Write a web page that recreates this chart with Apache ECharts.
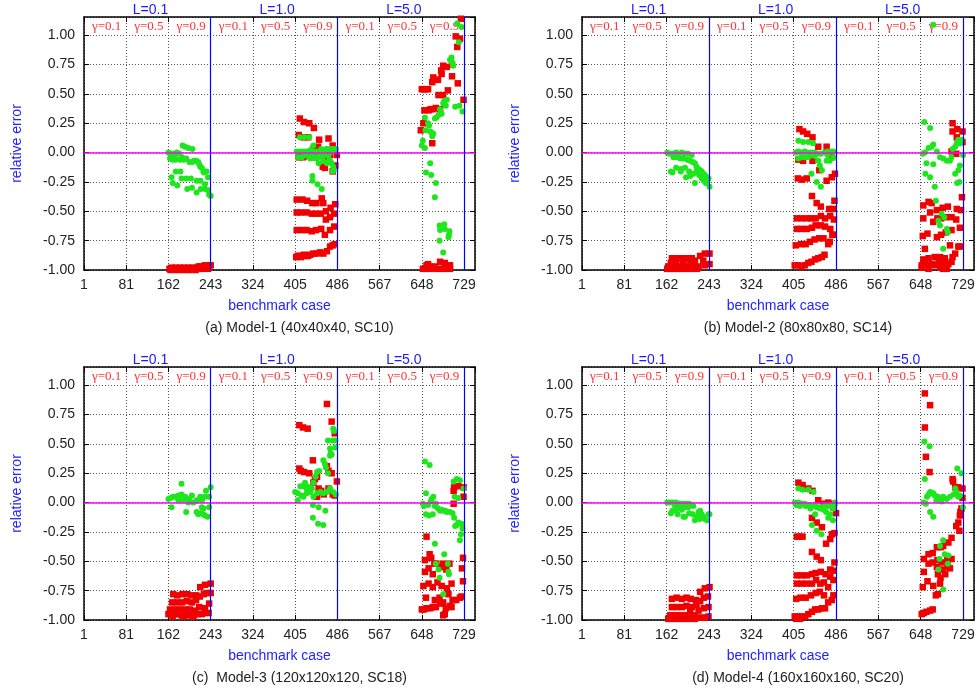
<!DOCTYPE html>
<html><head><meta charset="utf-8">
<script src="https://cdn.jsdelivr.net/npm/echarts/dist/echarts.min.js"></script>
<style>html,body{margin:0;padding:0;background:#fff}#c{width:980px;height:689px}</style>
</head><body><div id="c"></div>
<script>
const xTicks = [1,81,162,243,324,405,486,567,648,729];
const blockLabels = ['L=0.1','L=1.0','L=5.0'];
const gammaLabels = ['γ=0.1','γ=0.5','γ=0.9'];
const panelTitles = ['(a) Model-1 (40x40x40, SC10)','(b) Model-2 (80x80x80, SC14)','(c)  Model-3 (120x120x120, SC18)','(d) Model-4 (160x160x160, SC20)'];
const separators = [243,486,729];

const a_red = [
[164,-0.99],[168,-0.98],[172,-0.99],[176,-0.98],[180,-0.99],[184,-0.98],[188,-0.99],[192,-0.98],[196,-0.99],[200,-0.98],[204,-0.99],[208,-0.98],[212,-0.99],[216,-0.98],[220,-0.97],[224,-0.97],[228,-0.98],[232,-0.96],[236,-0.97],[240,-0.96],[243,-0.96],[166,-1.0],[178,-1.0],[190,-1.0],[202,-1.0],[214,-1.0],[226,-0.99],[238,-0.99],
[414,0.29],[422,0.26],[432,0.25],[441,0.21],[412,0.15],[421,0.13],[430,0.13],[451,0.11],[469,0.12],[477,0.06],[440,0.03],[449,0.05],
[412,-0.04],[420,-0.04],[432,-0.03],[443,-0.04],[460,-0.04],[472,-0.02],[485,-0.02],[458,-0.12],[462,-0.13],[477,-0.16],[482,-0.11],
[408,-0.40],[419,-0.40],[428,-0.41],[438,-0.43],[446,-0.43],[456,-0.39],[459,-0.43],
[408,-0.51],[416,-0.51],[427,-0.51],[437,-0.52],[445,-0.52],[454,-0.52],[464,-0.50],[473,-0.47],[482,-0.44],[464,-0.57],[472,-0.55],[480,-0.52],
[408,-0.66],[418,-0.66],[427,-0.66],[437,-0.67],[445,-0.66],[455,-0.65],[462,-0.70],[472,-0.66],[480,-0.63],
[407,-0.89],[410,-0.88],[413,-0.88],[416,-0.89],[419,-0.88],[422,-0.87],[426,-0.88],[430,-0.88],[434,-0.87],[440,-0.86],[446,-0.86],[453,-0.85],[459,-0.86],[466,-0.84],[472,-0.80],[477,-0.79],[481,-0.78],
[648,0.54],[652,0.54],[656,0.54],[660,0.54],[653,0.36],[661,0.36],[665,0.37],[670,0.37],[668,0.60],[670,0.64],[675,0.62],[679,0.62],[685,0.70],[689,0.74],[696,0.73],[686,0.67],[675,0.38],[683,0.37],[680,0.49],[689,0.49],[698,0.53],[706,0.75],[706,0.65],[713,0.99],[716,0.90],[717,0.59],[723,1.14],[728,0.45],[721,0.97],[646,0.19],[651,0.25],[668,0.08],
[657,-0.96],[664,-0.97],[656,-0.99],[673,-0.97],[683,-0.93],[692,-0.94],[686,-0.99],[692,-0.99],[702,-0.96],[702,-0.99],[664,-0.99],[676,-0.99],[650,-0.99],[660,-0.95],[668,-0.98],[697,-0.97]
];
const a_green = [
[162,0.00],[166,-0.01],[171,-0.01],[178,0.00],[183,-0.01],[165,-0.05],[170,-0.06],[176,-0.06],[184,-0.06],[191,-0.06],[196,-0.05],[202,-0.08],[208,-0.08],[215,-0.07],[219,-0.08],[223,-0.12],[226,-0.13],[229,-0.16],[232,-0.16],[235,-0.16],[238,-0.21],[230,-0.17],[174,-0.03],[188,-0.04],[211,-0.07],[221,-0.10],
[189,0.06],[194,0.05],[200,0.04],[208,0.03],
[168,-0.21],[176,-0.16],[185,-0.16],[170,-0.26],[179,-0.28],[187,-0.22],[196,-0.22],[205,-0.22],[198,-0.31],[207,-0.30],[216,-0.34],[216,-0.24],[223,-0.24],[224,-0.31],[232,-0.27],[232,-0.31],[238,-0.32],[240,-0.36],[243,-0.37],
[408,0.01],[414,0.01],[421,0.01],[427,0.01],[434,0.02],[440,0.01],[446,0.01],[453,0.01],[459,0.02],[466,0.03],[472,0.02],[478,0.03],[483,0.03],
[411,-0.04],[418,-0.04],[424,-0.02],[430,-0.03],[437,-0.03],[443,-0.04],[449,-0.04],[456,-0.03],[462,-0.02],[469,-0.03],[475,0.01],
[472,-0.07],[475,-0.09],[478,-0.12],[479,-0.15],[477,-0.16],[466,-0.09],[459,-0.07],[446,-0.05],
[414,0.13],[423,0.13],[432,0.13],[440,0.06],[455,0.03],[465,0.03],[474,0.03],
[438,-0.20],[438,-0.24],[448,-0.27],[456,-0.31],[450,-0.09],[434,-0.05],
[648,0.06],[650,0.10],[655,0.19],[654,0.30],[662,0.23],[660,0.25],[664,0.18],[668,0.14],[667,0.17],[654,0.04],[664,-0.09],[670,0.16],[673,0.29],[680,0.32],[683,0.37],[689,0.42],[696,0.45],[694,0.40],[702,0.79],[705,0.81],[708,0.74],[706,0.77],[712,0.39],[716,1.10],[719,0.94],[720,0.40],[724,1.07],[726,0.35],[686,0.33],[676,0.30],[691,0.44],
[656,-0.17],[666,-0.19],[675,-0.26],[673,-0.38],[682,-0.62],[691,-0.61],[683,-0.66],[692,-0.65],[682,-0.75],[689,-0.85],[701,-0.67],[699,-0.72],[700,-0.70]
];
const b_red = [
[165,-0.97],[171,-0.97],[178,-0.97],[184,-0.97],[190,-0.97],[197,-0.97],[203,-0.97],[210,-0.97],[216,-0.97],
[172,-0.90],[178,-0.90],[184,-0.90],[191,-0.90],[197,-0.90],[203,-0.90],[210,-0.90],[216,-0.92],
[226,-0.88],[235,-0.86],[244,-0.86],[232,-0.92],[223,-0.97],[235,-0.96],[244,-0.95],
[163,-0.99],[168,-0.99],[175,-0.99],[182,-0.99],[190,-0.99],[198,-0.99],[206,-0.99],[214,-0.99],[220,-0.99],
[170,-0.94],[180,-0.94],[193,-0.94],[206,-0.94],
[416,0.20],[423,0.18],[431,0.16],[441,0.13],[414,-0.06],[423,-0.07],[441,-0.07],[452,0.05],[468,0.05],[478,-0.04],[454,-0.15],[468,-0.24],[478,-0.21],[484,-0.18],[413,-0.22],[421,-0.23],[430,-0.22],[440,-0.37],[449,-0.43],[457,-0.46],[483,-0.41],[473,-0.48],[480,-0.48],
[411,-0.56],[420,-0.56],[430,-0.56],[439,-0.56],[447,-0.56],[457,-0.54],[465,-0.56],[475,-0.54],[482,-0.57],
[411,-0.65],[420,-0.65],[430,-0.65],[440,-0.64],[447,-0.62],[457,-0.62],[465,-0.63],[475,-0.65],[481,-0.70],
[409,-0.79],[419,-0.78],[428,-0.78],[436,-0.76],[445,-0.74],[454,-0.73],[462,-0.73],[471,-0.78],[474,-0.76],[479,-0.70],
[407,-0.96],[413,-0.96],[420,-0.97],[426,-0.96],[433,-0.94],[439,-0.93],[446,-0.91],[452,-0.90],[459,-0.89],[464,-0.87],
[709,0.25],[709,0.18],[718,0.20],[717,0.13],[728,0.18],[728,0.09],[707,0.01],[716,-0.01],
[727,-0.38],[653,-0.45],[663,-0.42],[669,-0.43],[679,-0.49],[690,-0.47],[700,-0.46],[717,-0.48],[725,-0.49],
[653,-0.56],[666,-0.51],[672,-0.59],[680,-0.56],[687,-0.56],[696,-0.55],[707,-0.55],[716,-0.57],
[652,-0.71],[661,-0.69],[679,-0.72],[687,-0.70],[696,-0.68],[707,-0.66],[723,-0.64],[656,-0.82],
[653,-0.91],[663,-0.90],[675,-0.89],[685,-0.89],[694,-0.90],[704,-0.79],[709,-0.89],[714,-0.86],[720,-0.80],[723,-0.80],
[650,-0.96],[656,-0.95],[663,-0.96],[669,-0.95],[675,-0.96],[682,-0.94],[688,-0.95],[694,-0.93],[701,-0.95],[707,-0.93],[685,-0.98],[691,-0.99],[698,-0.99],[650,-0.98],[663,-0.99]
];
const b_green = [
[163,0.00],[168,-0.01],[173,-0.01],[180,0.00],[186,-0.01],[191,0.00],[197,-0.01],[203,-0.01],[210,-0.02],
[175,-0.04],[181,-0.04],[188,-0.05],[194,-0.05],[202,-0.06],[207,-0.07],[212,-0.08],[216,-0.09],[219,-0.12],[223,-0.14],[226,-0.15],[229,-0.16],[232,-0.18],[235,-0.19],[239,-0.21],[242,-0.22],[244,-0.29],
[170,-0.16],[173,-0.17],[180,-0.13],[189,-0.14],[189,-0.16],[197,-0.13],[199,-0.21],[207,-0.20],[205,-0.16],[216,-0.26],[213,-0.18],[219,-0.16],[224,-0.19],[229,-0.22],[233,-0.24],[237,-0.26],[240,-0.24],
[409,0.00],[414,0.01],[420,0.00],[426,0.01],[432,0.00],[439,0.00],[445,0.00],[451,-0.01],[457,-0.01],[464,0.00],[470,0.01],[476,0.01],[481,0.01],
[414,0.10],[423,0.09],[433,0.09],[442,0.08],
[414,-0.05],[420,-0.04],[426,-0.04],[433,-0.04],[439,-0.02],
[439,-0.18],[449,-0.25],[457,-0.29],[459,-0.15],[468,-0.07],[474,-0.07],[481,-0.04],[452,-0.07],[455,-0.11],[445,-0.03],[470,-0.02],
[672,1.09],
[655,0.26],[666,0.21],[652,-0.01],[656,0.00],[663,0.04],[669,0.05],[672,0.07],[659,-0.09],[657,-0.18],[666,-0.21],[675,-0.29],[672,-0.10],[679,0.01],[685,-0.04],[691,-0.05],[698,-0.07],[704,-0.07],[707,-0.04],[709,0.03],[714,0.05],[717,0.08],[720,0.11],[723,0.08],[726,0.11],[729,-0.02],[723,-0.11],[720,-0.15],[714,-0.18],[722,-0.25],[718,-0.26],
[677,-0.41],[691,-0.82],[682,-0.58],[685,-0.62],[693,-0.55],[698,-0.65],[700,-0.68],[688,-0.52]
];
const c_red = [
[162,-0.95],[168,-0.95],[174,-0.95],[181,-0.95],[187,-0.96],[194,-0.96],[200,-0.96],[207,-0.96],[213,-0.95],[219,-0.95],[226,-0.95],[232,-0.94],[239,-0.94],
[165,-0.91],[175,-0.91],[184,-0.91],[194,-0.91],[203,-0.91],[213,-0.92],[221,-0.89],[232,-0.90],[240,-0.86],
[169,-0.85],[178,-0.85],[188,-0.85],[197,-0.84],[207,-0.85],[215,-0.83],[222,-0.80],[230,-0.78],[235,-0.77],[243,-0.77],
[243,-0.69],[232,-0.70],[223,-0.72],
[171,-0.78],[179,-0.79],[189,-0.78],[198,-0.78],[206,-0.79],[215,-0.79],
[170,-0.97],[190,-0.97],[210,-0.97],
[466,0.84],[475,0.69],[481,0.59],[413,0.66],[420,0.64],[429,0.63],[439,0.36],[413,0.29],[416,0.27],[422,0.26],[432,0.25],[466,0.31],[469,0.27],[475,0.25],[447,0.22],[440,0.17],[443,0.20],[450,0.12],[455,0.10],[460,0.07],[469,0.12],[477,0.07],[485,0.18],[481,0.06],[447,0.05],
[657,-0.29],[663,-0.44],[666,-0.47],[654,-0.49],[672,-0.52],[676,-0.52],[689,-0.52],[701,-0.52],[661,-0.56],[654,-0.59],[669,-0.61],[683,-0.55],[695,-0.57],[725,-0.56],[727,-0.47],
[651,-0.71],[661,-0.69],[669,-0.72],[678,-0.68],[686,-0.71],[696,-0.73],[705,-0.69],[727,-0.67],
[656,-0.81],[673,-0.83],[682,-0.81],[689,-0.85],[699,-0.78],[707,-0.83],[714,-0.83],[721,-0.81],[724,-0.80],
[648,-0.91],[652,-0.91],[657,-0.90],[664,-0.90],[669,-0.89],[675,-0.89],[683,-0.86],[694,-0.90],[702,-0.88],[705,-0.89],[692,-0.95],[689,-0.96],
[709,0.10],[710,0.13],[718,0.14],[728,0.13],[728,0.05],[709,-0.01]
];
const c_green = [
[162,0.03],[166,0.04],[171,0.05],[176,0.05],[181,0.06],[187,0.16],[187,0.07],[194,0.05],[197,0.02],[202,0.03],[207,0.06],[210,0.00],[216,0.02],[223,0.05],[226,0.02],[232,0.05],[240,0.05],[243,0.13],[234,0.10],
[168,-0.04],[196,-0.08],[216,-0.08],[223,-0.09],[229,-0.10],[232,-0.11],[237,-0.12],[240,-0.04],[226,-0.04],[181,0.02],[184,0.02],[191,0.03],[200,0.00],[219,-0.10],[229,-0.05],
[405,0.09],[410,0.08],[410,0.02],[415,0.14],[420,0.14],[424,0.17],[426,0.14],[431,0.13],[437,0.12],[440,0.17],[444,0.22],[447,0.26],[451,0.27],[459,0.36],[462,0.33],[464,0.30],[468,0.25],[472,0.40],[473,0.42],[472,0.46],[477,0.53],[478,0.63],[480,0.61],[482,0.47],[482,0.53],[468,0.53],[475,0.41],
[421,0.05],[427,0.08],[434,0.09],[440,0.05],[447,0.08],[453,0.09],[459,0.08],[466,0.09],[472,0.12],[478,0.09],[483,0.07],
[439,-0.02],[439,-0.13],[449,-0.18],[459,-0.19],[463,-0.07],[450,-0.04],[417,0.06],[427,0.12],[430,0.10],
[654,0.35],[663,0.32],[656,0.08],[650,-0.01],[652,-0.03],[656,-0.10],[662,-0.11],[669,-0.10],[670,0.05],[667,0.03],[673,-0.03],[675,-0.01],[679,-0.05],[683,-0.07],[689,-0.07],[696,-0.08],[702,-0.08],[707,-0.09],[710,-0.13],[712,-0.20],[715,-0.19],[718,-0.17],[724,-0.18],[723,-0.27],[721,-0.32],[726,-0.22],[709,0.18],[715,0.20],[721,0.19],[718,0.04],[728,0.12],[711,0.05],
[673,-0.35],[691,-0.44],[698,-0.52],[700,-0.61],[699,-0.59],[680,-0.57],[682,-0.64],[689,-0.78],[675,-0.52],[660,-0.02],[665,0.01],[686,-0.06],[693,-0.07]
];
const d_red = [
[165,-0.99],[171,-0.99],[178,-0.99],[184,-0.99],[191,-0.99],[197,-0.99],[203,-0.99],[210,-0.99],[216,-0.99],[222,-0.98],[229,-0.98],[235,-0.98],[242,-0.97],
[169,-0.96],[178,-0.96],[188,-0.96],[197,-0.96],[207,-0.96],[216,-0.96],
[172,-0.89],[181,-0.89],[191,-0.89],[200,-0.88],[210,-0.89],[219,-0.87],[226,-0.84],[233,-0.81],[241,-0.80],
[244,-0.72],[235,-0.73],[226,-0.76],
[172,-0.82],[181,-0.81],[191,-0.82],[200,-0.81],[208,-0.82],[218,-0.83],
[233,-0.90],[242,-0.89],[207,-0.93],[223,-0.92],
[414,0.17],[422,0.15],[433,0.12],[441,0.10],[452,0.02],[462,-0.01],[471,0.00],[480,-0.01],[486,-0.09],[481,-0.04],[440,-0.13],[449,-0.17],[459,-0.21],[478,-0.27],[483,-0.26],[475,-0.31],[467,-0.35],[411,-0.29],[416,-0.29],[422,-0.29],[440,-0.42],[449,-0.46],[457,-0.49],[483,-0.51],[475,-0.57],[480,-0.58],
[411,-0.62],[420,-0.62],[430,-0.62],[440,-0.61],[447,-0.60],[457,-0.59],[466,-0.61],[475,-0.63],[481,-0.66],
[411,-0.69],[420,-0.69],[430,-0.69],[440,-0.69],[448,-0.66],[456,-0.69],[463,-0.68],[471,-0.72],[481,-0.79],
[410,-0.82],[418,-0.81],[428,-0.81],[438,-0.79],[447,-0.77],[455,-0.76],[463,-0.79],[471,-0.85],[478,-0.83],
[407,-0.97],[413,-0.97],[420,-0.97],[427,-0.97],[433,-0.95],[440,-0.93],[446,-0.91],[452,-0.91],[459,-0.90],[465,-0.90],[410,-0.99],[417,-0.99],
[656,0.93],[666,0.83],[656,0.64],[658,0.39],[665,0.26],[709,0.20],[710,0.18],[714,0.13],[720,0.13],[728,0.12],[728,0.04],[726,-0.05],[724,-0.08],[723,-0.11],[720,-0.17],[716,-0.20],[722,-0.24],[707,-0.30],[701,-0.34],[691,-0.37],[686,-0.38],[679,-0.38],[671,-0.43],[663,-0.44],[654,-0.48],
[663,-0.52],[671,-0.51],[680,-0.49],[688,-0.51],[699,-0.49],[707,-0.48],[700,-0.55],[704,-0.56],[690,-0.57],[654,-0.59],[679,-0.55],[681,-0.61],[695,-0.61],[686,-0.64],[700,-0.53],
[652,-0.72],[661,-0.67],[672,-0.71],[685,-0.69],[677,-0.79],[681,-0.78],
[650,-0.95],[654,-0.94],[659,-0.93],[666,-0.92],[671,-0.91]
];
const d_green = [
[163,0.00],[168,0.00],[173,0.00],[180,0.00],[186,-0.01],[193,-0.01],[199,-0.01],[205,-0.01],[210,-0.02],[213,-0.03],
[178,-0.03],[184,-0.04],[191,-0.04],[197,-0.04],[203,-0.04],
[170,-0.09],[173,-0.07],[180,-0.07],[183,-0.10],[191,-0.06],[194,-0.12],[197,-0.12],[205,-0.09],[212,-0.10],[216,-0.15],[219,-0.12],[223,-0.08],[226,-0.07],[229,-0.10],[232,-0.12],[235,-0.14],[239,-0.15],[242,-0.10],[244,-0.10],[225,-0.14],
[407,0.00],[414,0.00],[420,-0.01],[426,-0.01],[433,-0.02],[439,-0.03],[446,-0.03],[452,-0.04],[459,-0.04],[465,-0.03],[471,-0.03],[478,-0.02],[484,-0.01],
[414,0.12],[422,0.11],[433,0.11],[443,0.09],[449,-0.04],
[440,-0.19],[449,-0.24],[458,-0.27],[446,-0.10],[458,-0.04],[467,-0.08],[471,-0.13],[475,-0.10],[480,-0.15],[481,-0.05],[484,0.00],
[410,-0.02],[417,-0.03],[428,-0.03],[437,-0.05],[455,-0.05],[462,-0.06],
[655,0.52],[665,0.48],[656,0.20],[660,0.05],[663,0.07],[666,0.09],[669,0.08],[672,0.08],[675,0.06],[653,0.00],[658,-0.01],[666,-0.08],[672,-0.12],[681,0.05],[685,0.02],[691,0.05],[698,0.03],[704,0.05],[711,0.07],[714,0.12],[718,0.29],[726,0.25],[723,0.06],[729,-0.04],[720,0.05],[716,0.09],[678,0.02],[688,0.01],
[691,-0.32],[685,-0.37],[684,-0.48],[694,-0.44],[701,-0.45],[682,-0.57],[691,-0.74],[700,-0.52]
];

const redSets = [a_red, b_red, c_red, d_red];
const greenSets = [a_green, b_green, c_green, d_green];

const FONT = '"Liberation Sans", Arial, sans-serif';
const grids = [
  {left:84, top:17, width:391, height:253},
  {left:582, top:17, width:392, height:253},
  {left:84, top:367, width:391, height:253},
  {left:582, top:367, width:392, height:253}
];
const gridLine = {show:true, lineStyle:{color:'#555', type:[1,2], width:1}};
const xAxes = [], yAxes = [], series = [];
grids.forEach((g, i) => {
  xAxes.push({gridIndex:i, type:'value', min:0, max:750, interval:81, position:'bottom',
    axisLine:{show:true, onZero:false, lineStyle:{color:'#000', width:1.5}},
    axisTick:{show:true, inside:true, length:5, lineStyle:{color:'#000'}},
    axisLabel:{color:'#222', fontSize:14, fontFamily:FONT, margin:8, showMaxLabel:false, showMinLabel:true,
      formatter: v => (v === 0 ? String(xTicks[0]) : String(v))},
    splitLine:gridLine,
    name:'benchmark case', nameLocation:'middle', nameGap:29,
    nameTextStyle:{color:'#2222ff', fontSize:14, fontFamily:FONT}});
  yAxes.push({gridIndex:i, type:'value', min:-1, max:1.155, interval:0.25, position:'left',
    axisLine:{show:true, onZero:false, lineStyle:{color:'#000', width:1.5}},
    axisTick:{show:true, inside:true, length:5, lineStyle:{color:'#000'}},
    axisLabel:{color:'#222', fontSize:14, fontFamily:FONT, margin:9, showMaxLabel:false, formatter: v => v.toFixed(2)},
    splitLine:gridLine,
    name:'relative error', nameLocation:'middle', nameGap:60,
    nameTextStyle:{color:'#2222ff', fontSize:14, fontFamily:FONT}});
});
grids.forEach((g, i) => {
  xAxes.push({gridIndex:i, type:'value', min:0, max:750, interval:81, position:'top',
    axisLine:{show:true, onZero:false, lineStyle:{color:'#000', width:1.5}},
    axisTick:{show:true, inside:true, length:5, lineStyle:{color:'#000'}},
    axisLabel:{show:false}, splitLine:{show:false}});
  yAxes.push({gridIndex:i, type:'value', min:-1, max:1.155, interval:0.25, position:'right',
    axisLine:{show:true, onZero:false, lineStyle:{color:'#000', width:1.5}},
    axisTick:{show:true, inside:true, length:5, lineStyle:{color:'#000'}},
    axisLabel:{show:false}, splitLine:{show:false}});
});
grids.forEach((g, i) => {
  series.push({type:'line', xAxisIndex:i, yAxisIndex:i, data:[], z:1, silent:true,
    markLine:{silent:true, symbol:'none', animation:false, label:{show:false},
      data:[
        {yAxis:0, lineStyle:{color:'#ff00ff', width:1.5, type:'solid'}},
        ...separators.map(s => ({xAxis:s, lineStyle:{color:'#0000ff', width:1.2, type:'solid'}}))
      ]}});
  series.push({type:'scatter', xAxisIndex:i, yAxisIndex:i, data:redSets[i], symbol:'rect', symbolSize:6.5,
    itemStyle:{color:'#f00000', opacity:1}, z:3, animation:false});
  series.push({type:'scatter', xAxisIndex:i, yAxisIndex:i, data:greenSets[i], symbol:'circle', symbolSize:6,
    itemStyle:{color:'#1ee61e', opacity:1}, z:4, animation:false});
});

const chart = echarts.init(document.getElementById('c'), null, {renderer:'canvas'});
chart.setOption({animation:false, backgroundColor:'#fff', grid:grids, xAxis:xAxes, yAxis:yAxes, series:series});

const graphics = [];
grids.forEach((g, i) => {
  const finder = {xAxisIndex:i, yAxisIndex:i};
  blockLabels.forEach((t, k) => {
    const p = chart.convertToPixel(finder, [121.5 + 243*k + 6, 1.155]);
    graphics.push({type:'text', x:p[0], y:p[1] - 7, silent:true,
      style:{text:t, fill:'#1a1aff', font:'14px ' + FONT, align:'center', verticalAlign:'middle'}});
  });
  for (let k = 0; k < 9; k++) {
    const p = chart.convertToPixel(finder, [40.5 + 81*k + 3, 1.07]);
    graphics.push({type:'text', x:p[0], y:p[1], silent:true,
      style:{text:gammaLabels[k % 3], fill:'#ff3333', font:'13px "Liberation Serif", "Times New Roman", serif', align:'center', verticalAlign:'middle'}});
  }
  const q = chart.convertToPixel(finder, [375, -1]);
  graphics.push({type:'text', x:q[0] + 20, y:q[1] + 58, silent:true,
    style:{text:panelTitles[i], fill:'#222', font:'14px ' + FONT, align:'center', verticalAlign:'middle'}});
});
chart.setOption({graphic:graphics});
</script></body></html>
